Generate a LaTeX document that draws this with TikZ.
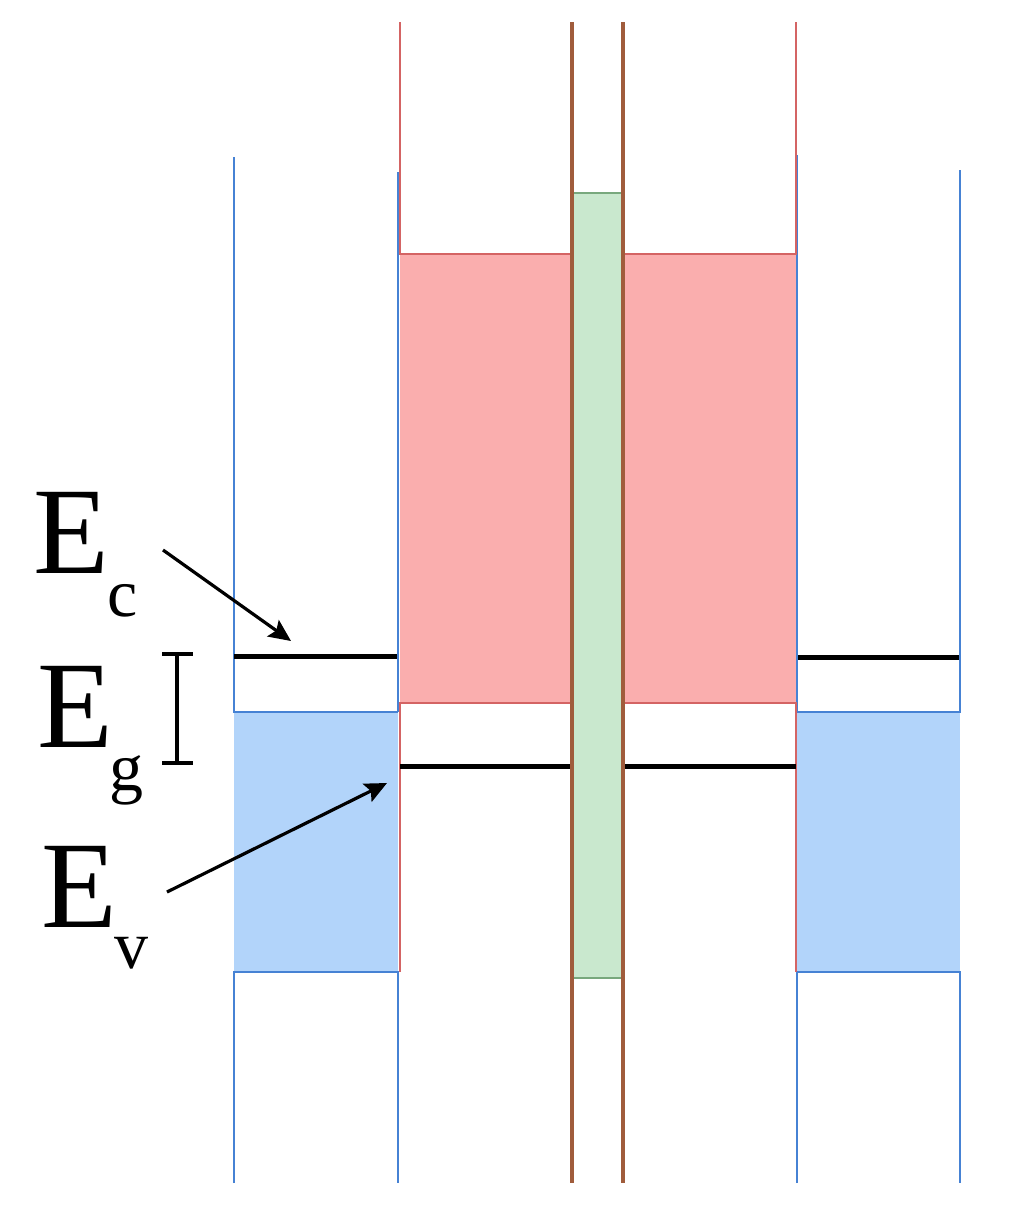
\documentclass[tikz,border=0pt]{standalone}
\usepackage{fontspec}
\setmainfont{Liberation Serif}
\newfontfamily\labelfont{Liberation Serif}
\usetikzlibrary{arrows.meta}
\definecolor{redfill}{RGB}{250,174,174}
\definecolor{bluefill}{RGB}{178,212,250}
\definecolor{greenfill}{RGB}{201,232,206}
\definecolor{blueline}{RGB}{70,130,212}
\definecolor{redline}{RGB}{212,100,100}
\definecolor{brownline}{RGB}{160,92,60}
\definecolor{greenline}{RGB}{120,168,125}
\begin{document}
\begin{tikzpicture}[x=0.5pt,y=-0.5pt,
  bl/.style={draw=blueline,line width=1.2pt},
  rl/.style={draw=redline,line width=1.2pt},
  brl/.style={draw=brownline,line width=1.7pt},
  gl/.style={draw=greenline,line width=1.2pt},
  blk/.style={draw=black,line width=2.5pt},
  brk/.style={draw=black,line width=2pt},
  arr/.style={draw=black,line width=1.6pt,-{Stealth[length=11pt,width=10pt,inset=2pt]}},
  bigE/.style={inner sep=0pt,font=\labelfont\fontsize{62}{62}\selectfont},
  subE/.style={inner sep=0pt,font=\labelfont\fontsize{34}{34}\selectfont}]
\useasboundingbox (0,0) rectangle (1024,1207);
\fill[white] (0,0) rectangle (1024,1207);
% fills
\fill[redfill] (400,254) rectangle (572,703);
\fill[redfill] (623,254) rectangle (796,703);
\fill[greenfill] (572,193) rectangle (623,978);
\fill[bluefill] (234,712) rectangle (398,972);
\fill[bluefill] (797,712) rectangle (960,972);
% blue wells
\draw[bl] (234,157) -- (234,712) -- (398,712);
\draw[bl] (398,172) -- (398,712);
\draw[bl] (234,1183) -- (234,972) -- (398,972) -- (398,1183);
\draw[bl] (797,155) -- (797,712);
\draw[bl] (960,170) -- (960,712) -- (797,712);
\draw[bl] (797,1183) -- (797,972) -- (960,972) -- (960,1183);
% red barrier
\draw[rl] (400,22) -- (400,254) -- (572,254);
\draw[rl] (623,254) -- (796,254) -- (796,22);
\draw[rl] (572,703) -- (400,703) -- (400,972);
\draw[rl] (623,703) -- (796,703) -- (796,972);
% green column
\draw[gl] (572,193) -- (623,193);
\draw[gl] (572,978) -- (623,978);
\draw[brl] (572,22) -- (572,1183);
\draw[brl] (623,22) -- (623,1183);
% band edges
\draw[blk] (234,656) -- (397,656);
\draw[blk] (798,657) -- (959,657);
\draw[blk] (400,766) -- (570,766);
\draw[blk] (625,766) -- (796,766);
% gap bracket
\draw[brk] (177,654) -- (177,763);
\draw[brk] (162,654) -- (193,654);
\draw[brk] (162,763) -- (193,763);
% labels
\node[bigE,anchor=base west] (ec) at (33,573) {E};
\node[subE,anchor=base west] (ecs) at (107,616) {c};
\node[bigE,anchor=base west] (eg) at (37,747) {E};
\node[subE,anchor=base west] (egs) at (109,790) {g};
\node[bigE,anchor=base west] (ev) at (41,927) {E};
\node[subE,anchor=base west] (evs) at (114,968) {v};
% arrows
\coordinate (ecA) at (163,550);
\coordinate (ecB) at (291,641);
\coordinate (evA) at (167,892);
\coordinate (evB) at (387,783);
\draw[arr] (ecA) -- (ecB);
\draw[arr] (evA) -- (evB);
\end{tikzpicture}
\end{document}
